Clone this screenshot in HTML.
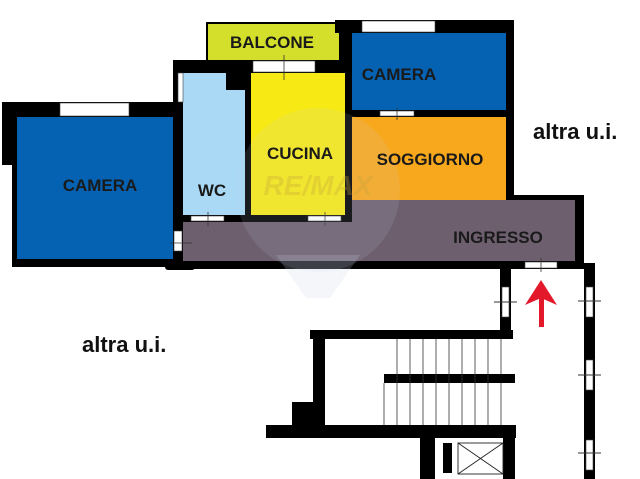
<!DOCTYPE html>
<html><head><meta charset="utf-8"><style>
html,body{margin:0;padding:0;background:#fff;}
svg{display:block}
text{font-family:"Liberation Sans",sans-serif;font-weight:bold;}
</style></head><body>
<svg width="640" height="479" viewBox="0 0 640 479" xmlns="http://www.w3.org/2000/svg">
<rect width="640" height="479" fill="#fff"/>
<rect x="207" y="23" width="133" height="38" fill="#d3df2b" stroke="#000" stroke-width="2"/>
<rect x="2" y="102" width="191" height="15" fill="#000"/>
<rect x="2" y="102" width="15" height="63" fill="#000"/>
<rect x="12" y="102" width="6" height="165" fill="#000"/>
<rect x="12" y="258" width="184" height="9" fill="#000"/>
<rect x="165" y="258" width="30" height="12" rx="3" fill="#000"/>
<rect x="173" y="60" width="10" height="207" fill="#000"/>
<rect x="177" y="60" width="80" height="13" fill="#000"/>
<rect x="245" y="60" width="100" height="13" fill="#000"/>
<rect x="335" y="20" width="178" height="13" fill="#000"/>
<rect x="340" y="20" width="12" height="202" fill="#000"/>
<rect x="506" y="20" width="8" height="182" fill="#000"/>
<rect x="506" y="195" width="78" height="8" fill="#000"/>
<rect x="575" y="195" width="9" height="73" fill="#000"/>
<rect x="173" y="261" width="411" height="8" fill="#000"/>
<rect x="17" y="117" width="156" height="142" fill="#0562b3"/>
<rect x="183" y="73" width="62" height="142" fill="#a9d9f5"/>
<rect x="226" y="73" width="19" height="17" fill="#000"/>
<rect x="245" y="73" width="6" height="149" fill="#000"/>
<rect x="251" y="73" width="94" height="142" fill="#f7ea14"/>
<rect x="173" y="215" width="179" height="7" fill="#000"/>
<rect x="352" y="33" width="154" height="77" fill="#0562b3"/>
<rect x="352" y="110" width="154" height="7" fill="#000"/>
<rect x="352" y="117" width="154" height="83" fill="#f7a81c"/>
<rect x="183" y="222" width="392" height="39" fill="#6d5f6e"/>
<rect x="352" y="200" width="223" height="22" fill="#6d5f6e"/>
<g fill="#fff" stroke="#444" stroke-width="0.6">
<rect x="60" y="103" width="69" height="13"/>
<rect x="178" y="73" width="5" height="29"/>
<rect x="253" y="61" width="62" height="11"/>
<rect x="362" y="21" width="73" height="11"/>
<rect x="380" y="111" width="34" height="5"/>
<rect x="191" y="216" width="33" height="5"/>
<rect x="308" y="216" width="33" height="5"/>
<rect x="174" y="231" width="8" height="20"/>
<rect x="525" y="262" width="32" height="6"/>
</g>
<g stroke="#333" stroke-width="0.8">
<line x1="284" y1="55" x2="284" y2="80"/><line x1="397" y1="108" x2="397" y2="120"/>
<line x1="208" y1="212" x2="208" y2="226"/><line x1="325" y1="212" x2="325" y2="226"/>
<line x1="170" y1="243" x2="192" y2="243"/><line x1="541" y1="258" x2="541" y2="272"/>
</g>
<rect x="500" y="266" width="11" height="70" fill="#000"/>
<rect x="502" y="287" width="7" height="30" fill="#fff" stroke="#444" stroke-width="0.6"/>
<line x1="494" y1="302" x2="517" y2="302" stroke="#333"/>
<rect x="584" y="263" width="11" height="216" fill="#000"/>
<g fill="#fff" stroke="#444" stroke-width="0.6">
<rect x="586" y="287" width="7" height="30"/><rect x="586" y="360" width="7" height="30"/><rect x="586" y="440" width="7" height="30"/>
</g>
<g stroke="#333"><line x1="578" y1="301" x2="601" y2="301"/><line x1="578" y1="375" x2="601" y2="375"/><line x1="578" y1="453" x2="601" y2="453"/></g>
<rect x="310" y="330" width="203" height="9" fill="#000"/>
<rect x="313" y="330" width="12" height="100" fill="#000"/>
<rect x="292" y="402" width="33" height="26" fill="#000"/>
<rect x="266" y="425" width="250" height="13" fill="#000"/>
<rect x="384" y="374" width="131" height="9" fill="#000"/>
<g stroke="#333" stroke-width="0.8">
<line x1="397" y1="339" x2="397" y2="425"/><line x1="410" y1="339" x2="410" y2="425"/><line x1="423" y1="339" x2="423" y2="425"/>
<line x1="436" y1="339" x2="436" y2="425"/><line x1="449" y1="339" x2="449" y2="425"/><line x1="462" y1="339" x2="462" y2="425"/>
<line x1="475" y1="339" x2="475" y2="425"/><line x1="488" y1="339" x2="488" y2="425"/><line x1="501" y1="339" x2="501" y2="374"/>
<line x1="384" y1="383" x2="384" y2="425"/><line x1="501" y1="383" x2="501" y2="425"/>
</g>
<rect x="420" y="438" width="15" height="41" fill="#000"/>
<rect x="503" y="438" width="12" height="41" fill="#000"/>
<rect x="443" y="443" width="9" height="30" fill="#000"/>
<g stroke="#222" fill="none" stroke-width="0.9"><rect x="458" y="443" width="45" height="31"/><line x1="458" y1="443" x2="503" y2="474"/><line x1="503" y1="443" x2="458" y2="474"/></g>
<rect x="539" y="298" width="5" height="29" fill="#e3182b"/>
<polygon points="541,280 557,305 541,298 525,305" fill="#e3182b"/>
<ellipse cx="318" cy="190" rx="82" ry="82" fill="#c8d0e8" opacity="0.13"/>
<polygon points="276,255 360,255 330,298 306,298" fill="#c8d0e8" opacity="0.2"/>
<text x="318" y="195" font-size="28" fill="#c6a23a" opacity="0.3" text-anchor="middle" font-style="italic">RE/MAX</text>
<g fill="#1a1a1a" font-size="17" text-anchor="middle">
<text x="272" y="48">BALCONE</text>
<text x="100" y="191">CAMERA</text>
<text x="212" y="196">WC</text>
<text x="300" y="159">CUCINA</text>
<text x="399" y="80">CAMERA</text>
<text x="430" y="165">SOGGIORNO</text>
<text x="498" y="243">INGRESSO</text>
</g>
<text x="533" y="139" font-size="22" fill="#111">altra u.i.</text>
<text x="82" y="352" font-size="22" fill="#111">altra u.i.</text>
</svg>
</body></html>
